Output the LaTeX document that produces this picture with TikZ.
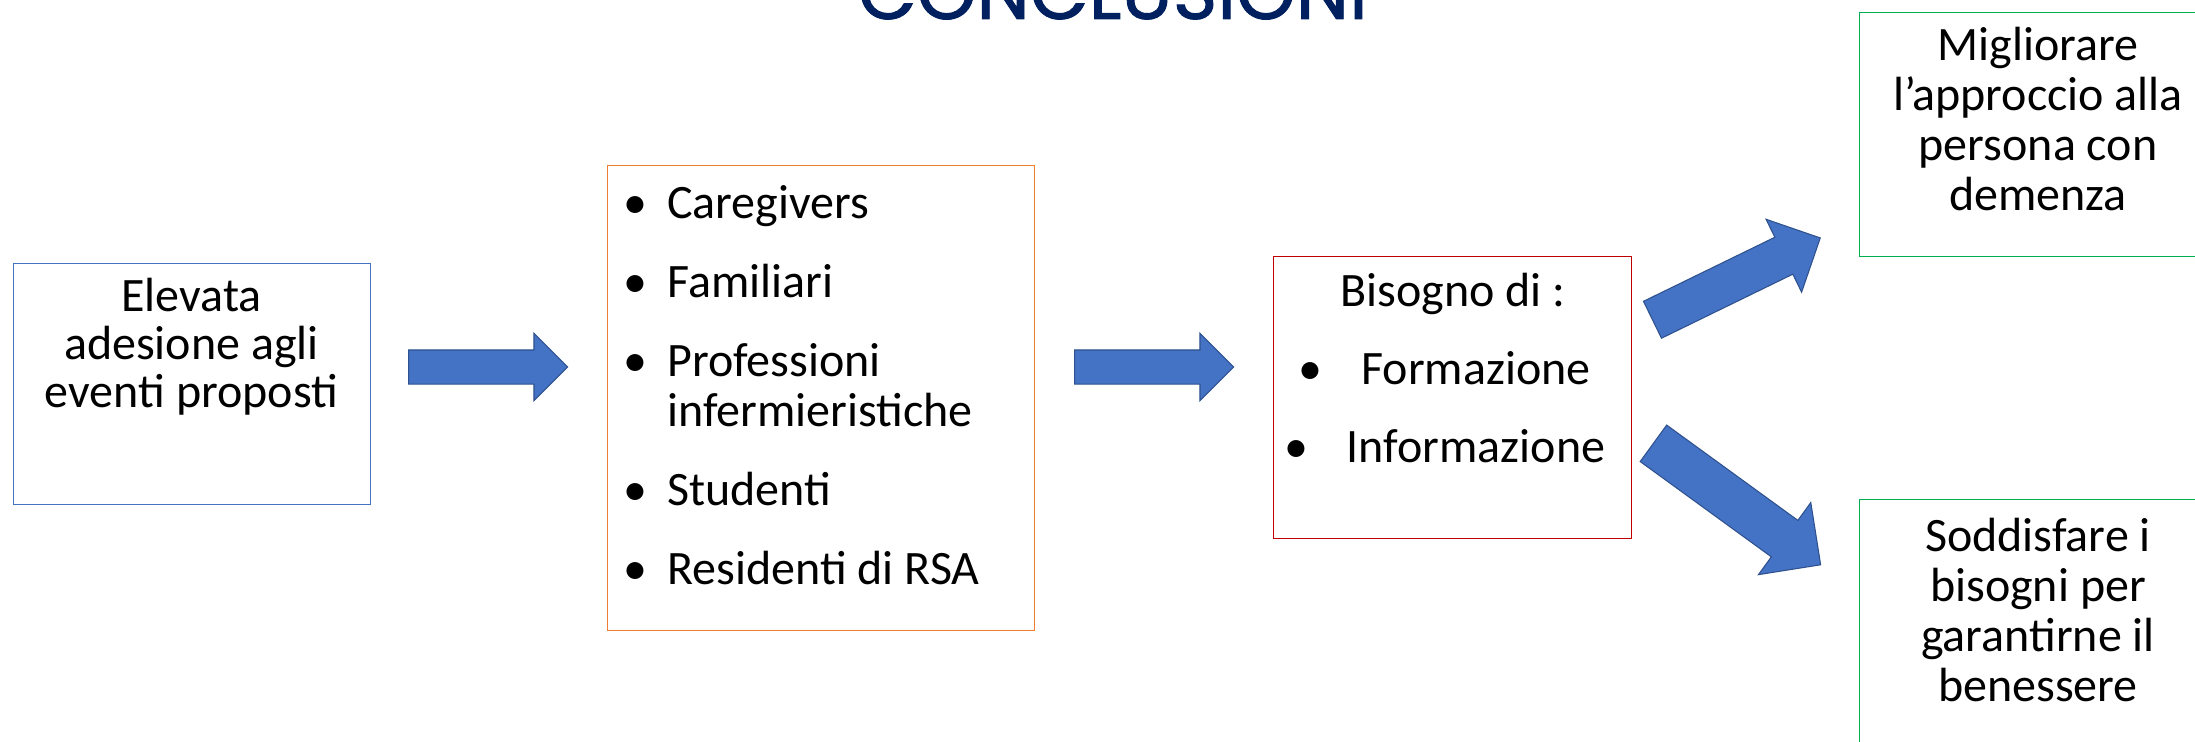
\documentclass[tikz,border=0pt]{standalone}
\usepackage{fontspec}
\setmainfont{Carlito}
\newfontfamily\titlefont{Poppins}[FakeBold=1.2]
\usetikzlibrary{shapes.arrows}
\definecolor{pblue}{HTML}{4472C4}
\definecolor{pblueD}{HTML}{2F528F}
\definecolor{porange}{HTML}{ED7D31}
\definecolor{pred}{HTML}{C00000}
\definecolor{pgreen}{HTML}{00B050}
\definecolor{navy}{HTML}{002060}
\newcommand{\mybul}[1]{\llap{\makebox[0pt][c]{•}\hspace{#1}}}
\begin{document}
\begin{tikzpicture}[x=0.75pt,y=-0.75pt,
  box/.style={draw, line width=1.1pt, inner sep=0pt, anchor=north west},
  txt/.style={inner sep=0pt, font=\fontsize{36}{37.5}\selectfont, align=center},
  blockarrow/.style={single arrow, draw=pblueD, fill=pblue, line width=0.8pt,
    inner xsep=0pt, single arrow tip angle=90, anchor=tail}
]
\useasboundingbox (0,0) rectangle (2195,742);
\fill[white] (0,0) rectangle (2195,742);
\clip (0,0) rectangle (2195,742);

% title (cut at the top edge)
\node[inner sep=0pt, anchor=base, font=\titlefont\fontsize{57}{60}\selectfont, text=navy] (title) at (1113,19) {CONCLUSIONI};

% boxes
\node[box, draw=pblue, minimum width=267.75pt, minimum height=180.75pt] (bluebox) at (13,263) {};
\node[box, draw=porange, minimum width=320.25pt, minimum height=348.75pt] (orangebox) at (607,165) {};
\node[box, draw=pred, minimum width=268.5pt, minimum height=211.5pt] (redbox) at (1273,256) {};
\node[box, draw=pgreen, minimum width=278.25pt, minimum height=183pt] (greenA) at (1859,12) {};
\node[box, draw=pgreen, minimum width=278.25pt, minimum height=195.75pt] (greenB) at (1859,499) {};

% texts
\node[txt, font=\fontsize{36}{36}\selectfont, anchor=north] (bluetxt) at (191.5,278) {\strut Elevata\\adesione agli\\eventi proposti};
\node[txt, align=left, anchor=north west] (orangetxt) at (667,183)
  {\strut\mybul{24pt}Caregivers\\[21.75pt]\mybul{24pt}Familiari\\[21.75pt]\mybul{24pt}Professioni\\infermieristiche\\[21.75pt]\mybul{24pt}Studenti\\[21.75pt]\mybul{24pt}Residenti di RSA};
\node[txt, anchor=north] (redtxt) at (1453,271)
  {\strut Bisogno di :\\[21pt]\hspace*{34.5pt}\mybul{38pt}Formazione\\[21pt]\hspace*{34.5pt}\mybul{38pt}Informazione};
\node[txt, anchor=north] (greenAtxt) at (2038,25) {\strut Migliorare\\l’approccio alla\\persona con\\demenza};
\node[txt, anchor=north] (greenBtxt) at (2038,516) {\strut Soddisfare i\\bisogni per\\garantirne il\\benessere};

% block arrows
\node[blockarrow, inner ysep=12.375pt, minimum height=119.25pt, single arrow head extend=12.4pt] (arrowA) at (408,367) {};
\node[blockarrow, inner ysep=12.375pt, minimum height=119.25pt, single arrow head extend=12.4pt] (arrowB) at (1074,367) {};
\node[blockarrow, rotate=26, inner ysep=15pt, minimum height=140pt, single arrow head extend=15pt] (arrowC) at (1652,320) {};
\node[blockarrow, rotate=-36, inner ysep=16.5pt, minimum height=155pt, single arrow head extend=16.5pt] (arrowD) at (1653,443) {};
\end{tikzpicture}
\end{document}
